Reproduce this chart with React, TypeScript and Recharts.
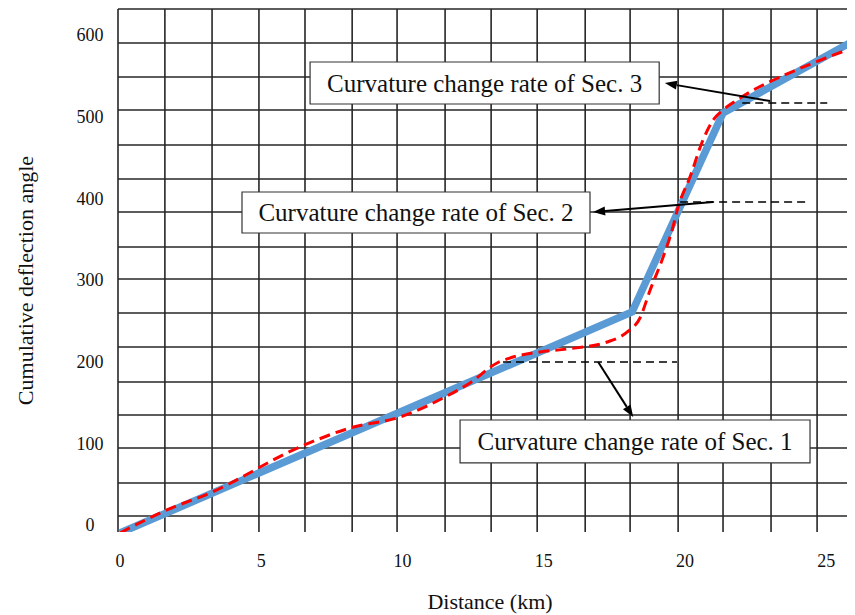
import { LineChart, Line, XAxis, YAxis, CartesianGrid, ReferenceLine, ReferenceArea } from 'recharts';

const serif = '"Liberation Serif", "Times New Roman", serif';

// straight-line fit (thick blue)
const fitKm = [0, 18.13, 21.35, 26.1];
const fitAngle = [-9.8, 260.7, 504.3, 595];

// measured curve (red dashed)
const curveKm = [
  0, 1.66, 3.19, 6.37, 8.14, 9.92, 11.51, 12.39, 13.35, 13.81, 14.87, 15.83, 17.25, 17.95,
  18.41, 18.77, 19.23, 19.55, 19.76, 20.18, 20.64, 21.0, 21.35, 21.85, 22.56, 23.37, 24.54, 26.1,
];
const curveAngle = [
  -9.8, 18.4, 39.2, 95.5, 118.7, 132.2, 156.7, 173.8, 198.3, 204.4, 211.8, 215.4, 224.0, 236,
  253.4, 287.6, 328, 361.1, 389.2, 425.9, 471.2, 495.7, 508, 520.2, 534.9, 548.3, 565.5, 586,
];

const xTicks = [0, 5, 10, 15, 20, 25];
const yTicks = [0, 100, 200, 300, 400, 500, 600];

// grid drawn in the original figure (not aligned with the ticks)
const gridKm = [-0.07, 1.59, 3.26, 4.92, 6.55, 8.22, 9.81, 11.51, 13.14, 14.77, 16.47, 18.06, 19.76, 21.35, 23.05, 24.68];
const gridAngle = [11, 51.4, 94.2, 134.6, 175, 217.9, 259.5, 301.1, 340.3, 383.1, 423.5, 465.1, 508, 548.4, 590, 631.6];

// annotations, one entry per section
const sections = ['Sec. 1', 'Sec. 2', 'Sec. 3'];
const boxKmFrom = [12.04, 4.32, 6.73];
const boxKmTo = [24.43, 16.64, 19.09];
const boxAngleLow = [75.9, 357.4, 515.3];
const boxAngleHigh = [128.5, 407.6, 566.7];
const levelAngle = [199.5, 395.3, 516.5];
const levelKmFrom = [13.56, 19.83, 22.03];
const levelKmTo = [19.72, 24.33, 25.04];
const arrowTailKm = [16.93, 21.0, 23.02];
const arrowTailAngle = [199.5, 395.3, 518.9];
const arrowTipKm = [18.17, 16.75, 19.29];
const arrowTipAngle = [132.2, 383.1, 540.9];

const fitData = fitKm.map((km, i) => ({ km, angle: fitAngle[i] }));
const curveData = curveKm.map((km, i) => ({ km, angle: curveAngle[i] }));

const Arrow = (props: any) => {
  const { x1, y1, x2, y2 } = props;
  const a = Math.atan2(y2 - y1, x2 - x1);
  const len = 12;
  const half = 4.5;
  const bx = x2 - len * Math.cos(a);
  const by = y2 - len * Math.sin(a);
  const pts = `${x2},${y2} ${bx + half * Math.sin(a)},${by - half * Math.cos(a)} ${bx - half * Math.sin(a)},${by + half * Math.cos(a)}`;
  return (
    <g>
      <line x1={x1} y1={y1} x2={bx} y2={by} stroke="#000" strokeWidth={2} />
      <polygon points={pts} fill="#000" />
    </g>
  );
};

const XTick = ({ x, y, payload }: any) => (
  <text x={x} y={y + 27} textAnchor="middle" fontFamily={serif} fontSize={18} fill="#111">
    {payload.value}
  </text>
);

const YTick = ({ x, y, payload }: any) => (
  <text x={x - 20} y={y} dy="0.35em" textAnchor="middle" fontFamily={serif} fontSize={18} fill="#111">
    {payload.value}
  </text>
);

const YTitle = ({ viewBox }: any) => (
  <text
    transform={`translate(${viewBox.x + 25}, ${viewBox.y + viewBox.height / 2 + 10}) rotate(-90)`}
    textAnchor="middle"
    fontFamily={serif}
    fontSize={22}
    fill="#111"
  >
    Cumulative deflection angle
  </text>
);

const XTitle = ({ viewBox }: any) => (
  <text
    x={viewBox.x + viewBox.width / 2}
    y={viewBox.y + viewBox.height}
    textAnchor="middle"
    fontFamily={serif}
    fontSize={22}
    fill="#111"
  >
    Distance (km)
  </text>
);

function AxisTitle(props: any) {
  return props.kind === 'x' ? <XTitle {...props} /> : <YTitle {...props} />;
}

export default function App() {
  return (
    <div style={{ width: 847, height: 607, overflow: 'hidden', background: '#fff' }}>
      <LineChart width={862} height={607} margin={{ top: 1, right: 8, bottom: 6, left: 0 }}>
        <CartesianGrid
          stroke="#262626"
          strokeWidth={1.6}
          horizontalValues={gridAngle}
          verticalValues={gridKm}
        />
        <XAxis
          type="number"
          dataKey="km"
          domain={[-0.07, 26.27]}
          allowDataOverflow
          ticks={xTicks}
          axisLine={false}
          tickLine={false}
          height={77}
          tick={<XTick />}
          label={<AxisTitle kind="x" />}
        />
        <YAxis
          type="number"
          dataKey="angle"
          domain={[-8.6, 631.6]}
          allowDataOverflow
          ticks={yTicks}
          axisLine={false}
          tickLine={false}
          width={110}
          tick={<YTick />}
          label={<AxisTitle kind="y" />}
        />
        <Line
          data={fitData}
          dataKey="angle"
          type="linear"
          stroke="#5B9BD5"
          strokeWidth={7.5}
          dot={false}
          activeDot={false}
          isAnimationActive={false}
        />
        <Line
          data={curveData}
          dataKey="angle"
          type="monotone"
          stroke="#FF0000"
          strokeWidth={3}
          strokeDasharray="11 6"
          dot={false}
          activeDot={false}
          isAnimationActive={false}
        />
        {sections.map((s, i) => (
          <ReferenceLine
            key={'lvl' + s}
            segment={[
              { x: levelKmFrom[i], y: levelAngle[i] },
              { x: levelKmTo[i], y: levelAngle[i] },
            ]}
            stroke="#000"
            strokeWidth={1.5}
            strokeDasharray="8 5"
          />
        ))}
        {sections.map((s, i) => (
          <ReferenceLine
            key={'arr' + s}
            segment={[
              { x: arrowTailKm[i], y: arrowTailAngle[i] },
              { x: arrowTipKm[i], y: arrowTipAngle[i] },
            ]}
            shape={Arrow}
          />
        ))}
        {sections.map((s, i) => (
          <ReferenceArea
            key={'box' + s}
            x1={boxKmFrom[i]}
            x2={boxKmTo[i]}
            y1={boxAngleLow[i]}
            y2={boxAngleHigh[i]}
            fill="#fff"
            fillOpacity={1}
            stroke="#333"
            strokeWidth={1.2}
            label={{
              value: `Curvature change rate of ${s}`,
              position: 'center',
              fontFamily: serif,
              fontSize: 25,
              fill: '#111',
            }}
          />
        ))}
      </LineChart>
    </div>
  );
}
